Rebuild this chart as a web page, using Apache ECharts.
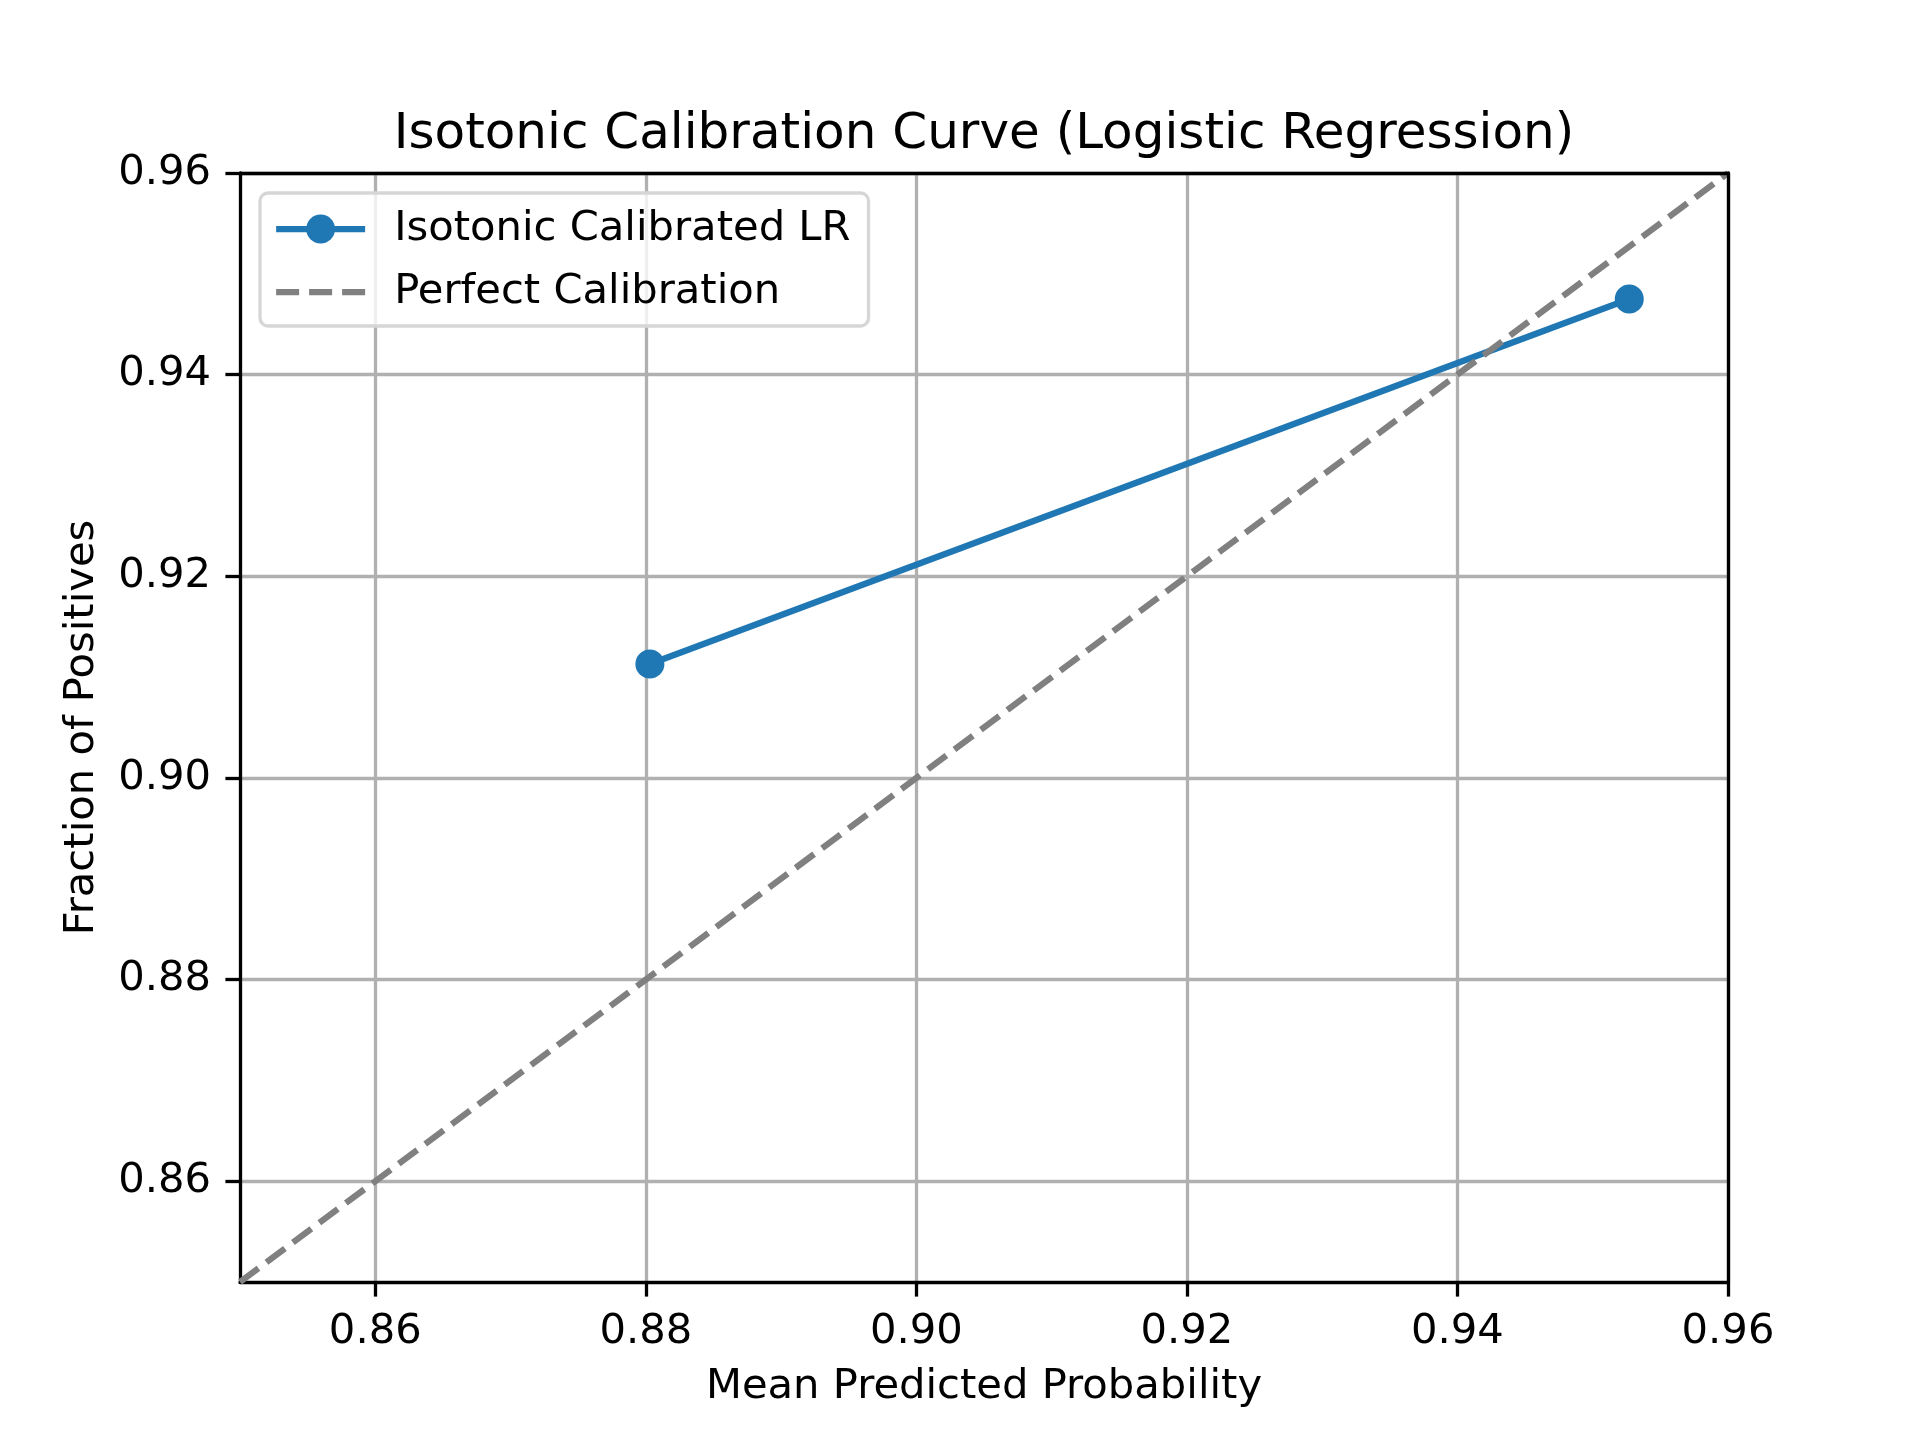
<!DOCTYPE html>
<html>
<head>
<meta charset="utf-8">
<script src="https://cdn.jsdelivr.net/npm/echarts@6/dist/echarts.min.js"></script>
<style>
  html, body { margin: 0; padding: 0; background: #fff; }
  #chart { width: 1920px; height: 1440px; }
</style>
</head>
<body>
<div id="chart"></div>
<script>
// calibration points
var meanPredicted = [0.8803, 0.9527];
var fractionPositives = [0.9113, 0.9475];
// reference diagonal
var perfectLine = [0.85, 0.96];
// tick positions
var xTicks = [0.86, 0.88, 0.90, 0.92, 0.94, 0.96];
var yTicks = [0.86, 0.88, 0.90, 0.92, 0.94, 0.96];

var FONT = 'DejaVu Sans';
var tickFs = 41.7;
var spine = { color: '#000', width: 3.3 };

function pairs(xs, ys) {
    var res = [];
    for (var i = 0; i < xs.length; i++) res.push([xs[i], ys[i]]);
    return res;
}

function axisCommon(ticks) {
    return {
        type: 'value',
        min: 0.85,
        max: 0.96,
        axisLine: { show: true, onZero: false, lineStyle: spine },
        axisTick: {
            show: true,
            inside: false,
            length: 14.6,
            customValues: ticks,
            lineStyle: spine
        },
        axisLabel: {
            customValues: ticks,
            margin: 29,
            color: '#000',
            fontFamily: FONT,
            fontSize: tickFs,
            formatter: function (v) { return v.toFixed(2); }
        },
        splitLine: {
            show: true,
            lineStyle: { color: '#b0b0b0', width: 3.3 }
        },
        nameLocation: 'middle',
        nameTextStyle: { color: '#000', fontFamily: FONT, fontSize: tickFs }
    };
}

// plain spine for the top / right edge of the box
function spineAxis(pos) {
    return {
        type: 'value',
        position: pos,
        min: 0.85,
        max: 0.96,
        z: 3,
        axisLine: { show: true, onZero: false, lineStyle: spine },
        axisTick: { show: false },
        axisLabel: { show: false },
        splitLine: { show: false }
    };
}

var xMain = axisCommon(xTicks);
xMain.position = 'bottom';
xMain.name = 'Mean Predicted Probability';
xMain.nameGap = 84;

var yMain = axisCommon(yTicks);
yMain.position = 'left';
yMain.name = 'Fraction of Positives';
yMain.nameGap = 137;

var myChart = echarts.init(document.getElementById('chart'), null, { renderer: 'canvas' });

var option = {
    backgroundColor: '#fff',
    animation: false,
    graphic: [{
        type: 'text',
        x: 984,
        y: 135,
        style: {
            text: 'Isotonic Calibration Curve (Logistic Regression)',
            fill: '#000',
            font: '50px "DejaVu Sans"',
            textAlign: 'center',
            textVerticalAlign: 'middle'
        }
    }],
    grid: {
        left: 240,
        top: 173,
        width: 1488,
        height: 1109,
        show: false,
        outerBoundsMode: 'none'
    },
    legend: {
        orient: 'vertical',
        left: 260,
        top: 193,
        itemWidth: 89,
        itemHeight: 36,
        itemGap: 21,
        padding: [15, 18, 13, 13],
        backgroundColor: 'rgba(255,255,255,0.8)',
        borderColor: '#d6d6d6',
        borderWidth: 3.3,
        borderRadius: 8,
        textStyle: {
            color: '#000',
            fontFamily: FONT,
            fontSize: tickFs,
            lineHeight: 42,
            padding: [0, 0, 0, 24]
        },
        data: [
            {
                name: 'Isotonic Calibrated LR',
                lineStyle: { width: 6.25 }
            },
            {
                name: 'Perfect Calibration',
                itemStyle: { opacity: 0 },
                lineStyle: { width: 6.25, type: [23, 10] }
            }
        ]
    },
    xAxis: [xMain, spineAxis('top')],
    yAxis: [yMain, spineAxis('right')],
    series: [
        {
            name: 'Isotonic Calibrated LR',
            type: 'line',
            xAxisIndex: 0,
            yAxisIndex: 0,
            data: pairs(meanPredicted, fractionPositives),
            symbol: 'circle',
            symbolSize: 29,
            itemStyle: { color: '#1f77b4' },
            lineStyle: { color: '#1f77b4', width: 6.25 },
            z: 2
        },
        {
            name: 'Perfect Calibration',
            type: 'line',
            xAxisIndex: 0,
            yAxisIndex: 0,
            data: pairs(perfectLine, perfectLine),
            symbol: 'none',
            itemStyle: { color: '#808080' },
            lineStyle: { color: '#808080', width: 6.25, type: [23, 10] },
            z: 2
        }
    ]
};
myChart.setOption(option);
</script>
</body>
</html>
